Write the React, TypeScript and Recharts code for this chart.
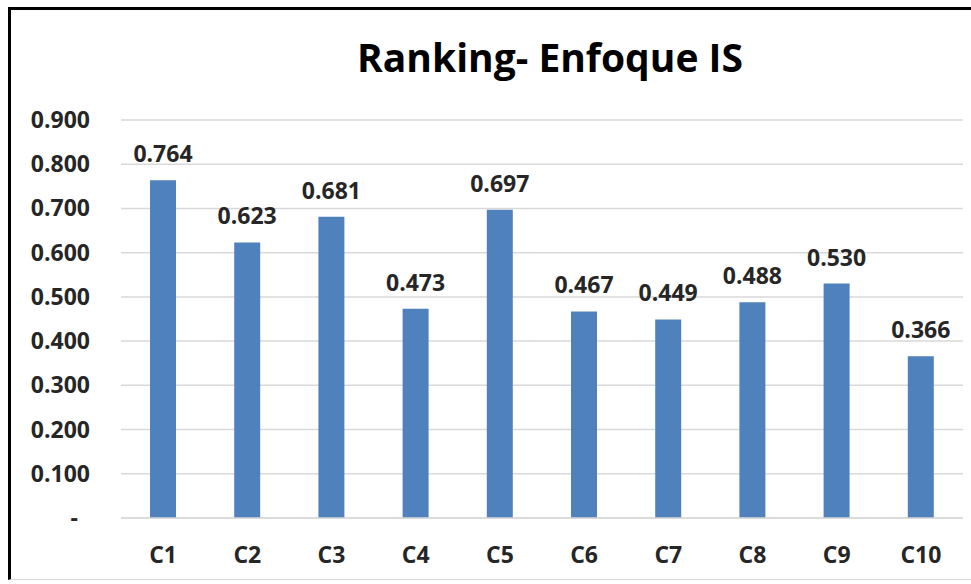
import { BarChart, Bar, XAxis, YAxis, CartesianGrid, LabelList } from "recharts";

const categories = ["C1", "C2", "C3", "C4", "C5", "C6", "C7", "C8", "C9", "C10"];
const scores = [0.764, 0.623, 0.681, 0.473, 0.697, 0.467, 0.449, 0.488, 0.53, 0.366];
const yTicks = [0, 0.1, 0.2, 0.3, 0.4, 0.5, 0.6, 0.7, 0.8, 0.9];

const chartData = categories.map((name, i) => ({ name, score: scores[i] }));

const FONT = "'Open Sans', sans-serif";
const TEXT = "#262626";
const SIZE = 23;

const YTick = ({ x, y, payload }: any) => {
  const zero = payload.value === 0;
  return (
    <text
      x={zero ? x - 6 : x + 6}
      y={y}
      dy={8}
      textAnchor="end"
      fontFamily={FONT}
      fontWeight={700}
      fontSize={SIZE}
      fill={TEXT}
    >
      {zero ? "-" : payload.value.toFixed(3)}
    </text>
  );
};

const XTick = ({ x, y, payload }: any) => (
  <text x={x} y={y} dy={37} textAnchor="middle" fontFamily={FONT} fontWeight={700} fontSize={SIZE} fill={TEXT}>
    {payload.value}
  </text>
);

const App = () => {
  return (
    <div style={{ position: "absolute", left: 0, top: 0, width: 971, height: 584, background: "#fff" }}>
      {/* frame */}
      <div
        style={{
          position: "absolute",
          left: 8,
          top: 7,
          width: 980,
          height: 573,
          borderLeft: "3px solid #000",
          borderTop: "3px solid #000",
          borderBottom: "1px solid #d9d9d9",
          boxSizing: "border-box",
        }}
      />
      <div
        style={{
          position: "absolute",
          left: 0,
          top: 31,
          width: 1100,
          textAlign: "center",
          fontFamily: FONT,
          fontWeight: 700,
          fontSize: 39,
          color: "#000",
          lineHeight: "52px",
        }}
      >
        Ranking- Enfoque IS
      </div>
      <div style={{ position: "absolute", left: 0, top: 0 }}>
        <BarChart width={971} height={584} data={chartData} margin={{ top: 120, right: 8, left: 0, bottom: 0 }}>
          <CartesianGrid vertical={false} stroke="#d9d9d9" strokeWidth={1.5} />
          <XAxis
            dataKey="name"
            height={66}
            tickLine={false}
            axisLine={{ stroke: "#d9d9d9", strokeWidth: 1.5 }}
            tick={<XTick />}
            interval={0}
          />
          <YAxis
            width={121}
            domain={[0, 0.9]}
            ticks={yTicks}
            tickLine={false}
            axisLine={false}
            tickMargin={31}
            tick={<YTick />}
          />
          <Bar dataKey="score" fill="#4F81BD" barSize={26} isAnimationActive={false}>
            <LabelList
              dataKey="score"
              position="top"
              offset={18}
              formatter={(v: any) => Number(v).toFixed(3)}
              style={{ fontFamily: FONT, fontWeight: 700, fontSize: SIZE, fill: TEXT }}
            />
          </Bar>
        </BarChart>
      </div>
    </div>
  );
};

export default App;
